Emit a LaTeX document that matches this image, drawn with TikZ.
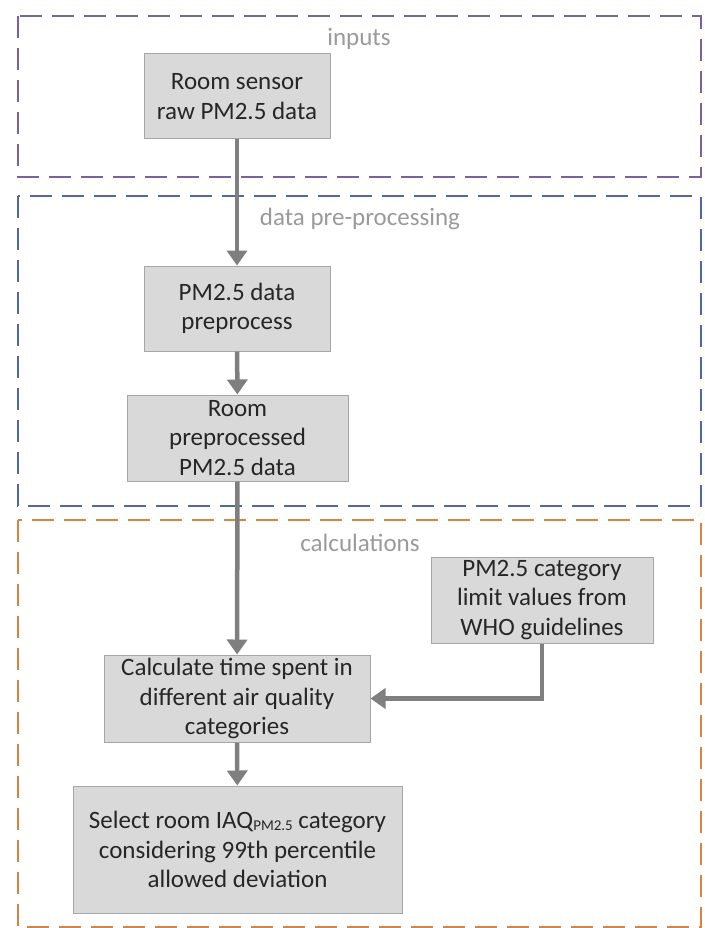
\documentclass[tikz,border=0pt]{standalone}
\usepackage{fontspec}
\setmainfont{Carlito}
\usetikzlibrary{arrows.meta}

\definecolor{framepurple}{HTML}{7862A4}
\definecolor{frameblue}{HTML}{5565A6}
\definecolor{frameorange}{HTML}{D6843F}
\definecolor{boxfill}{HTML}{D9D9D9}
\definecolor{boxline}{HTML}{A6A6A6}
\definecolor{flowgray}{HTML}{7F7F7F}
\definecolor{labelgray}{HTML}{9A9A9A}
\definecolor{textdark}{HTML}{262626}

\begin{document}
\begin{tikzpicture}[
      x = 1pt, y = -1pt,
      every node/.style = {
        font = \fontsize{25}{29.5}\selectfont, inner sep = 0pt},
      stage/.style = {
        rectangle, draw = boxline, line width = 1pt, fill = boxfill,
        text = textdark, align = center},
      area/.style = {labelgray},
      frame/.style = {line width = 2pt, dash pattern = on 22pt off 10pt},
      flow/.style = {flowgray, line width = 4.5pt,
        -{Triangle[width = 20pt, length = 15pt]}}
      ]
    \useasboundingbox (0,0) rectangle (704,928);
    \clip (0,0) rectangle (704,928);

    \draw[frame, framepurple] (18,16) rectangle (701,177);
    \draw[frame, frameblue] (18,196) rectangle (701,506);
    \draw[frame, frameorange] (18,520) rectangle (701,927);

    \node[area] (inputs) at (359,39) {inputs};
    \node[area] (preproc) at (360,219) {data pre-processing};
    \node[area] (calcs) at (360,543) {calculations};

    \node[stage, minimum width = 186pt, minimum height = 85pt]
      (raw) at (237,96.5) {Room sensor\\raw PM2.5 data};
    \node[stage, minimum width = 186pt, minimum height = 85pt]
      (prep) at (237,308.5) {PM2.5 data\\preprocess};
    \node[stage, minimum width = 221pt, minimum height = 86pt]
      (clean) at (237.5,438) {Room\\preprocessed\\PM2.5 data};
    \node[stage, minimum width = 222pt, minimum height = 86pt]
      (who) at (542,600) {PM2.5 category\\limit values from\\WHO guidelines};
    \node[stage, minimum width = 266pt, minimum height = 87pt]
      (time) at (237,698.5) {Calculate time spent in\\different air quality\\categories};
    \node[stage, minimum width = 329pt, minimum height = 127pt]
      (select) at (237.5,849.5) {Select room
      IAQ\raisebox{-2pt}{\fontsize{15}{15}\selectfont PM2.5} category\\considering
      99th percentile\\allowed deviation};

    \draw[flow] (raw) -- (prep);
    \draw[flow] (prep) -- (clean);
    \draw[flow] (clean) -- (time);
    \draw[flow] (time) -- (select);
    \draw[flow] (who.south) |- (time.east);
  \end{tikzpicture}
\end{document}
